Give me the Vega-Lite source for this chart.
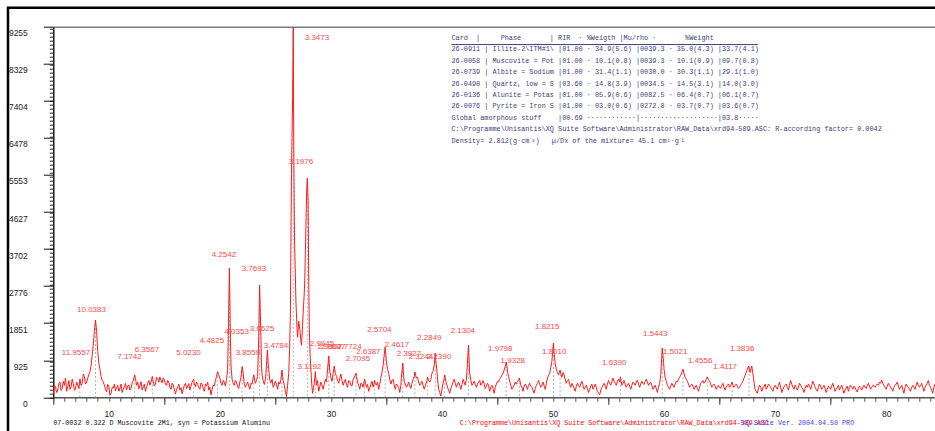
{
  "$schema": "https://vega.github.io/schema/vega-lite/v6.json",
  "width": 881.7,
  "height": 370.6,
  "autosize": {"type": "none"},
  "padding": {"left": 53.3, "top": 26.7, "right": 0, "bottom": 34},
  "background": "white",
  "config": {
    "view": {"stroke": null},
    "axis": {"grid": false, "labelFont": "Liberation Sans", "labelFontSize": 8.5, "labelColor": "#222222"}
  },
  "data": {"values": [{}]},
  "datasets": {
    "scan": [
      {"t":5.0,"c":60},{"t":5.1,"c":310},{"t":5.2,"c":250},{"t":5.3,"c":120},{"t":5.4,"c":180},{"t":5.5,"c":340},{"t":5.6,"c":380},{"t":5.7,"c":170},{"t":5.8,"c":220},{"t":5.9,"c":400},
      {"t":6.0,"c":300},{"t":6.1,"c":480},{"t":6.2,"c":150},{"t":6.3,"c":260},{"t":6.4,"c":420},{"t":6.5,"c":200},{"t":6.6,"c":260},{"t":6.7,"c":450},{"t":6.8,"c":340},{"t":6.9,"c":180},
      {"t":7.0,"c":200},{"t":7.1,"c":380},{"t":7.2,"c":310},{"t":7.3,"c":220},{"t":7.4,"c":460},{"t":7.5,"c":300},{"t":7.6,"c":350},{"t":7.7,"c":580},{"t":7.8,"c":520},{"t":7.9,"c":330},
      {"t":8.0,"c":380},{"t":8.1,"c":480},{"t":8.2,"c":560},{"t":8.3,"c":640},{"t":8.4,"c":780},{"t":8.5,"c":1050},{"t":8.6,"c":1300},{"t":8.7,"c":1650},{"t":8.8,"c":1930},{"t":8.85,"c":1800},
      {"t":8.9,"c":1650},{"t":8.95,"c":1400},{"t":9.0,"c":1150},{"t":9.1,"c":850},{"t":9.2,"c":700},{"t":9.3,"c":520},{"t":9.4,"c":420},{"t":9.5,"c":380},{"t":9.6,"c":300},{"t":9.7,"c":200},
      {"t":9.8,"c":140},{"t":9.9,"c":320},{"t":10.0,"c":280},{"t":10.1,"c":50},{"t":10.2,"c":90},{"t":10.3,"c":250},{"t":10.4,"c":230},{"t":10.5,"c":330},{"t":10.6,"c":160},{"t":10.7,"c":240},
      {"t":10.8,"c":300},{"t":10.9,"c":150},{"t":11.0,"c":220},{"t":11.1,"c":330},{"t":11.2,"c":120},{"t":11.3,"c":200},{"t":11.4,"c":260},{"t":11.5,"c":350},{"t":11.6,"c":190},{"t":11.7,"c":280},
      {"t":11.8,"c":310},{"t":11.9,"c":180},{"t":12.0,"c":230},{"t":12.1,"c":360},{"t":12.2,"c":420},{"t":12.33,"c":560},{"t":12.4,"c":470},{"t":12.5,"c":300},{"t":12.6,"c":380},{"t":12.7,"c":210},
      {"t":12.8,"c":300},{"t":12.9,"c":390},{"t":13.0,"c":180},{"t":13.1,"c":260},{"t":13.2,"c":330},{"t":13.3,"c":150},{"t":13.4,"c":250},{"t":13.5,"c":350},{"t":13.6,"c":420},{"t":13.7,"c":300},
      {"t":13.8,"c":380},{"t":13.92,"c":520},{"t":14.0,"c":400},{"t":14.1,"c":280},{"t":14.2,"c":330},{"t":14.3,"c":500},{"t":14.4,"c":470},{"t":14.5,"c":380},{"t":14.6,"c":510},{"t":14.7,"c":420},
      {"t":14.8,"c":360},{"t":14.9,"c":480},{"t":15.0,"c":430},{"t":15.1,"c":330},{"t":15.2,"c":300},{"t":15.3,"c":420},{"t":15.4,"c":380},{"t":15.5,"c":250},{"t":15.6,"c":200},{"t":15.7,"c":350},
      {"t":15.8,"c":310},{"t":15.9,"c":200},{"t":16.0,"c":80},{"t":16.1,"c":200},{"t":16.2,"c":260},{"t":16.3,"c":330},{"t":16.4,"c":180},{"t":16.5,"c":240},{"t":16.6,"c":90},{"t":16.7,"c":200},
      {"t":16.8,"c":300},{"t":16.9,"c":350},{"t":17.0,"c":220},{"t":17.1,"c":280},{"t":17.2,"c":340},{"t":17.3,"c":180},{"t":17.4,"c":280},{"t":17.5,"c":380},{"t":17.64,"c":450},{"t":17.7,"c":330},
      {"t":17.8,"c":260},{"t":17.9,"c":380},{"t":18.0,"c":320},{"t":18.1,"c":240},{"t":18.2,"c":200},{"t":18.3,"c":360},{"t":18.4,"c":330},{"t":18.5,"c":220},{"t":18.6,"c":150},{"t":18.7,"c":330},
      {"t":18.8,"c":290},{"t":18.9,"c":380},{"t":19.0,"c":180},{"t":19.1,"c":250},{"t":19.2,"c":60},{"t":19.3,"c":200},{"t":19.4,"c":310},{"t":19.5,"c":280},{"t":19.6,"c":420},{"t":19.7,"c":520},
      {"t":19.79,"c":640},{"t":19.9,"c":560},{"t":20.0,"c":480},{"t":20.1,"c":350},{"t":20.2,"c":300},{"t":20.3,"c":420},{"t":20.4,"c":380},{"t":20.5,"c":280},{"t":20.6,"c":450},{"t":20.7,"c":700},
      {"t":20.78,"c":1900},{"t":20.86,"c":3230},{"t":20.95,"c":1500},{"t":21.0,"c":800},{"t":21.1,"c":450},{"t":21.2,"c":350},{"t":21.3,"c":300},{"t":21.4,"c":420},{"t":21.5,"c":380},{"t":21.6,"c":260},
      {"t":21.7,"c":220},{"t":21.8,"c":380},{"t":21.9,"c":500},{"t":22.01,"c":765},{"t":22.1,"c":600},{"t":22.15,"c":450},{"t":22.2,"c":320},{"t":22.3,"c":250},{"t":22.4,"c":330},{"t":22.5,"c":380},
      {"t":22.6,"c":280},{"t":22.7,"c":200},{"t":22.8,"c":350},{"t":22.9,"c":330},{"t":22.97,"c":450},{"t":23.05,"c":560},{"t":23.15,"c":420},{"t":23.2,"c":350},{"t":23.3,"c":420},{"t":23.4,"c":520},
      {"t":23.5,"c":1500},{"t":23.58,"c":2800},{"t":23.68,"c":1700},{"t":23.75,"c":800},{"t":23.8,"c":550},{"t":23.9,"c":420},{"t":24.0,"c":320},{"t":24.1,"c":450},{"t":24.15,"c":600},{"t":24.28,"c":1180},
      {"t":24.35,"c":850},{"t":24.4,"c":700},{"t":24.5,"c":420},{"t":24.6,"c":360},{"t":24.7,"c":450},{"t":24.8,"c":250},{"t":24.9,"c":300},{"t":25.0,"c":400},{"t":25.1,"c":320},{"t":25.2,"c":200},
      {"t":25.3,"c":380},{"t":25.4,"c":330},{"t":25.5,"c":450},{"t":25.59,"c":680},{"t":25.65,"c":520},{"t":25.7,"c":420},{"t":25.8,"c":300},{"t":25.9,"c":150},{"t":26.0,"c":20},{"t":26.1,"c":300},
      {"t":26.2,"c":600},{"t":26.28,"c":1200},{"t":26.35,"c":2100},{"t":26.45,"c":5590},{"t":26.55,"c":7500},{"t":26.61,"c":9255},{"t":26.66,"c":6000},{"t":26.72,"c":4010},{"t":26.85,"c":2400},{"t":26.95,"c":1700},
      {"t":27.0,"c":1500},{"t":27.1,"c":1900},{"t":27.2,"c":1700},{"t":27.3,"c":1400},{"t":27.35,"c":1300},{"t":27.45,"c":1800},{"t":27.5,"c":2100},{"t":27.6,"c":2600},{"t":27.65,"c":2980},{"t":27.75,"c":4300},
      {"t":27.82,"c":5200},{"t":27.88,"c":5470},{"t":27.95,"c":4850},{"t":28.0,"c":3000},{"t":28.05,"c":1800},{"t":28.12,"c":1100},{"t":28.2,"c":680},{"t":28.28,"c":300},{"t":28.35,"c":100},{"t":28.45,"c":280},
      {"t":28.5,"c":350},{"t":28.6,"c":640},{"t":28.7,"c":300},{"t":28.8,"c":420},{"t":28.9,"c":150},{"t":29.0,"c":260},{"t":29.1,"c":380},{"t":29.2,"c":300},{"t":29.3,"c":200},{"t":29.4,"c":330},
      {"t":29.5,"c":450},{"t":29.6,"c":380},{"t":29.7,"c":700},{"t":29.81,"c":1030},{"t":29.9,"c":650},{"t":30.0,"c":500},{"t":30.1,"c":400},{"t":30.2,"c":600},{"t":30.3,"c":780},{"t":30.4,"c":600},
      {"t":30.5,"c":520},{"t":30.6,"c":420},{"t":30.7,"c":350},{"t":30.8,"c":480},{"t":30.9,"c":580},{"t":31.0,"c":420},{"t":31.1,"c":300},{"t":31.2,"c":380},{"t":31.3,"c":450},{"t":31.4,"c":320},
      {"t":31.5,"c":250},{"t":31.6,"c":420},{"t":31.7,"c":400},{"t":31.8,"c":300},{"t":31.9,"c":280},{"t":32.0,"c":450},{"t":32.1,"c":500},{"t":32.26,"c":600},{"t":32.3,"c":520},{"t":32.4,"c":380},
      {"t":32.5,"c":300},{"t":32.6,"c":200},{"t":32.7,"c":350},{"t":32.8,"c":330},{"t":32.9,"c":250},{"t":33.03,"c":450},{"t":33.1,"c":380},{"t":33.2,"c":250},{"t":33.3,"c":320},{"t":33.4,"c":150},
      {"t":33.5,"c":230},{"t":33.6,"c":320},{"t":33.7,"c":400},{"t":33.8,"c":250},{"t":33.94,"c":420},{"t":34.0,"c":350},{"t":34.1,"c":300},{"t":34.2,"c":380},{"t":34.3,"c":200},{"t":34.4,"c":320},
      {"t":34.5,"c":500},{"t":34.6,"c":620},{"t":34.7,"c":800},{"t":34.8,"c":1050},{"t":34.88,"c":1250},{"t":34.95,"c":1050},{"t":35.0,"c":900},{"t":35.1,"c":700},{"t":35.2,"c":600},{"t":35.3,"c":450},
      {"t":35.4,"c":330},{"t":35.5,"c":420},{"t":35.6,"c":450},{"t":35.7,"c":300},{"t":35.8,"c":200},{"t":35.9,"c":330},{"t":36.0,"c":300},{"t":36.1,"c":250},{"t":36.2,"c":120},{"t":36.3,"c":300},
      {"t":36.35,"c":500},{"t":36.47,"c":855},{"t":36.55,"c":550},{"t":36.6,"c":400},{"t":36.7,"c":330},{"t":36.8,"c":250},{"t":36.9,"c":300},{"t":37.0,"c":380},{"t":37.1,"c":280},{"t":37.2,"c":220},
      {"t":37.3,"c":350},{"t":37.4,"c":450},{"t":37.5,"c":520},{"t":37.56,"c":630},{"t":37.7,"c":480},{"t":37.8,"c":500},{"t":37.9,"c":380},{"t":38.0,"c":300},{"t":38.1,"c":350},{"t":38.2,"c":400},
      {"t":38.3,"c":300},{"t":38.4,"c":200},{"t":38.5,"c":280},{"t":38.55,"c":330},{"t":38.65,"c":420},{"t":38.71,"c":500},{"t":38.8,"c":420},{"t":38.9,"c":380},{"t":39.0,"c":450},{"t":39.1,"c":600},
      {"t":39.2,"c":650},{"t":39.3,"c":800},{"t":39.4,"c":1100},{"t":39.47,"c":850},{"t":39.55,"c":650},{"t":39.62,"c":400},{"t":39.7,"c":200},{"t":39.8,"c":120},{"t":39.9,"c":30},{"t":40.0,"c":200},
      {"t":40.1,"c":350},{"t":40.18,"c":450},{"t":40.25,"c":555},{"t":40.35,"c":400},{"t":40.45,"c":300},{"t":40.5,"c":250},{"t":40.6,"c":180},{"t":40.7,"c":100},{"t":40.8,"c":220},{"t":40.9,"c":300},
      {"t":41.0,"c":380},{"t":41.1,"c":450},{"t":41.2,"c":350},{"t":41.3,"c":250},{"t":41.4,"c":330},{"t":41.5,"c":380},{"t":41.6,"c":300},{"t":41.7,"c":200},{"t":41.8,"c":320},{"t":41.9,"c":450},
      {"t":42.0,"c":380},{"t":42.1,"c":300},{"t":42.2,"c":450},{"t":42.25,"c":650},{"t":42.32,"c":1000},{"t":42.39,"c":1305},{"t":42.45,"c":900},{"t":42.5,"c":600},{"t":42.6,"c":420},{"t":42.7,"c":300},
      {"t":42.8,"c":350},{"t":42.9,"c":400},{"t":43.0,"c":320},{"t":43.1,"c":250},{"t":43.2,"c":330},{"t":43.3,"c":380},{"t":43.4,"c":420},{"t":43.5,"c":300},{"t":43.6,"c":350},{"t":43.7,"c":420},
      {"t":43.8,"c":330},{"t":43.9,"c":220},{"t":44.0,"c":280},{"t":44.1,"c":350},{"t":44.2,"c":300},{"t":44.3,"c":150},{"t":44.4,"c":250},{"t":44.5,"c":300},{"t":44.6,"c":220},{"t":44.7,"c":100},
      {"t":44.8,"c":250},{"t":44.9,"c":330},{"t":45.0,"c":400},{"t":45.1,"c":380},{"t":45.2,"c":450},{"t":45.3,"c":500},{"t":45.4,"c":550},{"t":45.5,"c":600},{"t":45.6,"c":680},{"t":45.7,"c":780},
      {"t":45.79,"c":880},{"t":45.85,"c":780},{"t":45.9,"c":650},{"t":46.0,"c":520},{"t":46.1,"c":400},{"t":46.2,"c":300},{"t":46.3,"c":200},{"t":46.4,"c":250},{"t":46.5,"c":300},{"t":46.6,"c":380},
      {"t":46.7,"c":330},{"t":46.8,"c":400},{"t":46.9,"c":420},{"t":46.97,"c":480},{"t":47.05,"c":380},{"t":47.1,"c":300},{"t":47.2,"c":250},{"t":47.3,"c":150},{"t":47.4,"c":280},{"t":47.5,"c":330},
      {"t":47.6,"c":280},{"t":47.7,"c":200},{"t":47.8,"c":300},{"t":47.9,"c":350},{"t":48.0,"c":280},{"t":48.1,"c":250},{"t":48.2,"c":180},{"t":48.3,"c":100},{"t":48.4,"c":220},{"t":48.5,"c":300},
      {"t":48.6,"c":350},{"t":48.7,"c":420},{"t":48.8,"c":330},{"t":48.9,"c":250},{"t":49.0,"c":300},{"t":49.1,"c":380},{"t":49.2,"c":280},{"t":49.3,"c":200},{"t":49.4,"c":350},{"t":49.5,"c":480},
      {"t":49.6,"c":550},{"t":49.7,"c":600},{"t":49.8,"c":750},{"t":49.9,"c":900},{"t":49.97,"c":1150},{"t":50.04,"c":1355},{"t":50.1,"c":1100},{"t":50.2,"c":850},{"t":50.3,"c":700},{"t":50.4,"c":620},
      {"t":50.5,"c":560},{"t":50.57,"c":620},{"t":50.64,"c":680},{"t":50.7,"c":600},{"t":50.8,"c":500},{"t":50.9,"c":620},{"t":51.0,"c":560},{"t":51.1,"c":450},{"t":51.2,"c":350},{"t":51.3,"c":420},
      {"t":51.4,"c":450},{"t":51.5,"c":330},{"t":51.6,"c":250},{"t":51.7,"c":350},{"t":51.8,"c":300},{"t":51.9,"c":220},{"t":52.0,"c":150},{"t":52.1,"c":280},{"t":52.2,"c":350},{"t":52.3,"c":300},
      {"t":52.4,"c":250},{"t":52.5,"c":330},{"t":52.6,"c":400},{"t":52.7,"c":300},{"t":52.8,"c":200},{"t":52.9,"c":250},{"t":53.0,"c":300},{"t":53.1,"c":220},{"t":53.2,"c":120},{"t":53.3,"c":200},
      {"t":53.4,"c":280},{"t":53.5,"c":330},{"t":53.6,"c":200},{"t":53.7,"c":250},{"t":53.8,"c":330},{"t":53.9,"c":250},{"t":54.0,"c":150},{"t":54.1,"c":100},{"t":54.2,"c":60},{"t":54.3,"c":180},
      {"t":54.4,"c":250},{"t":54.5,"c":300},{"t":54.6,"c":350},{"t":54.7,"c":280},{"t":54.8,"c":200},{"t":54.9,"c":330},{"t":55.0,"c":420},{"t":55.1,"c":350},{"t":55.2,"c":300},{"t":55.3,"c":380},
      {"t":55.4,"c":480},{"t":55.5,"c":400},{"t":55.6,"c":350},{"t":55.7,"c":300},{"t":55.8,"c":400},{"t":55.9,"c":450},{"t":56.0,"c":380},{"t":56.07,"c":510},{"t":56.15,"c":400},{"t":56.2,"c":300},
      {"t":56.3,"c":350},{"t":56.4,"c":420},{"t":56.5,"c":330},{"t":56.6,"c":250},{"t":56.7,"c":300},{"t":56.8,"c":350},{"t":56.9,"c":280},{"t":57.0,"c":200},{"t":57.1,"c":300},{"t":57.2,"c":380},
      {"t":57.3,"c":350},{"t":57.4,"c":300},{"t":57.5,"c":380},{"t":57.6,"c":430},{"t":57.7,"c":330},{"t":57.8,"c":250},{"t":57.9,"c":330},{"t":58.0,"c":400},{"t":58.1,"c":350},{"t":58.2,"c":320},
      {"t":58.3,"c":400},{"t":58.4,"c":450},{"t":58.5,"c":380},{"t":58.6,"c":300},{"t":58.7,"c":350},{"t":58.8,"c":380},{"t":58.9,"c":300},{"t":59.0,"c":200},{"t":59.1,"c":250},{"t":59.2,"c":300},
      {"t":59.3,"c":220},{"t":59.4,"c":120},{"t":59.5,"c":250},{"t":59.6,"c":350},{"t":59.7,"c":550},{"t":59.75,"c":800},{"t":59.84,"c":1230},{"t":59.9,"c":1050},{"t":59.95,"c":900},{"t":60.0,"c":700},
      {"t":60.1,"c":500},{"t":60.2,"c":400},{"t":60.3,"c":300},{"t":60.4,"c":250},{"t":60.5,"c":200},{"t":60.6,"c":280},{"t":60.7,"c":350},{"t":60.8,"c":300},{"t":60.9,"c":250},{"t":61.0,"c":330},
      {"t":61.1,"c":400},{"t":61.2,"c":380},{"t":61.3,"c":450},{"t":61.4,"c":500},{"t":61.5,"c":550},{"t":61.6,"c":620},{"t":61.7,"c":705},{"t":61.8,"c":600},{"t":61.9,"c":500},{"t":62.0,"c":450},
      {"t":62.1,"c":400},{"t":62.2,"c":330},{"t":62.3,"c":250},{"t":62.4,"c":300},{"t":62.5,"c":330},{"t":62.6,"c":280},{"t":62.7,"c":200},{"t":62.8,"c":250},{"t":62.9,"c":300},{"t":63.0,"c":220},
      {"t":63.1,"c":150},{"t":63.2,"c":250},{"t":63.3,"c":350},{"t":63.4,"c":380},{"t":63.5,"c":420},{"t":63.6,"c":350},{"t":63.7,"c":380},{"t":63.8,"c":450},{"t":63.9,"c":510},{"t":64.0,"c":450},
      {"t":64.1,"c":400},{"t":64.2,"c":330},{"t":64.3,"c":250},{"t":64.4,"c":300},{"t":64.5,"c":330},{"t":64.6,"c":280},{"t":64.7,"c":200},{"t":64.8,"c":250},{"t":64.9,"c":300},{"t":65.0,"c":250},
      {"t":65.1,"c":220},{"t":65.2,"c":300},{"t":65.3,"c":350},{"t":65.4,"c":250},{"t":65.5,"c":180},{"t":65.6,"c":250},{"t":65.7,"c":300},{"t":65.8,"c":330},{"t":65.9,"c":250},{"t":66.0,"c":300},
      {"t":66.14,"c":380},{"t":66.2,"c":300},{"t":66.3,"c":250},{"t":66.4,"c":300},{"t":66.5,"c":330},{"t":66.6,"c":280},{"t":66.7,"c":220},{"t":66.8,"c":250},{"t":66.9,"c":300},{"t":67.0,"c":350},
      {"t":67.1,"c":400},{"t":67.2,"c":480},{"t":67.3,"c":550},{"t":67.4,"c":620},{"t":67.5,"c":700},{"t":67.62,"c":780},{"t":67.75,"c":620},{"t":67.9,"c":780},{"t":67.97,"c":650},{"t":68.05,"c":500},
      {"t":68.12,"c":350},{"t":68.2,"c":200},{"t":68.3,"c":150},{"t":68.4,"c":100},{"t":68.5,"c":220},{"t":68.6,"c":300},{"t":68.7,"c":250},{"t":68.8,"c":150},{"t":68.9,"c":230},{"t":69.0,"c":280},
      {"t":69.1,"c":330},{"t":69.2,"c":200},{"t":69.3,"c":250},{"t":69.4,"c":330},{"t":69.5,"c":300},{"t":69.6,"c":250},{"t":69.7,"c":200},{"t":69.8,"c":150},{"t":69.9,"c":250},{"t":70.0,"c":300},
      {"t":70.1,"c":250},{"t":70.2,"c":200},{"t":70.3,"c":300},{"t":70.4,"c":380},{"t":70.5,"c":250},{"t":70.6,"c":120},{"t":70.7,"c":200},{"t":70.8,"c":260},{"t":70.9,"c":300},{"t":71.0,"c":330},
      {"t":71.1,"c":250},{"t":71.2,"c":180},{"t":71.3,"c":300},{"t":71.4,"c":420},{"t":71.5,"c":330},{"t":71.6,"c":250},{"t":71.7,"c":200},{"t":71.8,"c":300},{"t":71.9,"c":250},{"t":72.0,"c":180},
      {"t":72.1,"c":250},{"t":72.2,"c":350},{"t":72.3,"c":300},{"t":72.4,"c":250},{"t":72.5,"c":200},{"t":72.6,"c":120},{"t":72.7,"c":220},{"t":72.8,"c":300},{"t":72.9,"c":250},{"t":73.0,"c":330},
      {"t":73.1,"c":280},{"t":73.2,"c":200},{"t":73.3,"c":300},{"t":73.4,"c":400},{"t":73.5,"c":330},{"t":73.6,"c":250},{"t":73.7,"c":200},{"t":73.8,"c":150},{"t":73.9,"c":250},{"t":74.0,"c":330},
      {"t":74.1,"c":280},{"t":74.2,"c":200},{"t":74.3,"c":250},{"t":74.4,"c":300},{"t":74.5,"c":220},{"t":74.6,"c":120},{"t":74.7,"c":200},{"t":74.8,"c":280},{"t":74.9,"c":250},{"t":75.0,"c":200},
      {"t":75.1,"c":280},{"t":75.2,"c":350},{"t":75.3,"c":250},{"t":75.4,"c":150},{"t":75.5,"c":200},{"t":75.6,"c":250},{"t":75.7,"c":300},{"t":75.8,"c":180},{"t":75.9,"c":250},{"t":76.0,"c":300},
      {"t":76.1,"c":200},{"t":76.2,"c":100},{"t":76.3,"c":180},{"t":76.4,"c":230},{"t":76.5,"c":280},{"t":76.6,"c":150},{"t":76.7,"c":250},{"t":76.8,"c":300},{"t":76.9,"c":250},{"t":77.0,"c":200},
      {"t":77.1,"c":280},{"t":77.2,"c":250},{"t":77.3,"c":180},{"t":77.4,"c":130},{"t":77.5,"c":220},{"t":77.6,"c":280},{"t":77.7,"c":250},{"t":77.8,"c":180},{"t":77.9,"c":250},{"t":78.0,"c":300},
      {"t":78.1,"c":250},{"t":78.2,"c":220},{"t":78.3,"c":300},{"t":78.4,"c":350},{"t":78.5,"c":280},{"t":78.6,"c":200},{"t":78.7,"c":250},{"t":78.8,"c":300},{"t":78.9,"c":280},{"t":79.0,"c":250},
      {"t":79.1,"c":300},{"t":79.2,"c":330},{"t":79.3,"c":300},{"t":79.4,"c":380},{"t":79.5,"c":350},{"t":79.6,"c":430},{"t":79.7,"c":350},{"t":79.8,"c":300},{"t":79.9,"c":250},{"t":80.0,"c":200},
      {"t":80.1,"c":280},{"t":80.2,"c":350},{"t":80.3,"c":300},{"t":80.4,"c":250},{"t":80.5,"c":200},{"t":80.6,"c":150},{"t":80.7,"c":250},{"t":80.8,"c":300},{"t":80.9,"c":330},{"t":81.0,"c":380},
      {"t":81.1,"c":280},{"t":81.2,"c":200},{"t":81.3,"c":250},{"t":81.4,"c":300},{"t":81.5,"c":200},{"t":81.6,"c":100},{"t":81.7,"c":250},{"t":81.8,"c":330},{"t":81.9,"c":280},{"t":82.0,"c":250},
      {"t":82.1,"c":200},{"t":82.2,"c":150},{"t":82.3,"c":250},{"t":82.4,"c":300},{"t":82.5,"c":250},{"t":82.6,"c":200},{"t":82.7,"c":300},{"t":82.8,"c":380},{"t":82.9,"c":300},{"t":83.0,"c":250},
      {"t":83.1,"c":300},{"t":83.2,"c":350},{"t":83.3,"c":250},{"t":83.4,"c":150},{"t":83.5,"c":250},{"t":83.6,"c":300},{"t":83.7,"c":350},{"t":83.8,"c":420},{"t":83.9,"c":300},{"t":84.0,"c":250},
      {"t":84.1,"c":180},{"t":84.2,"c":100},{"t":84.3,"c":250},{"t":84.4,"c":330}
    ],
    "sticks": [
      {"t":7.39,"c":450},{"t":8.8,"c":1930},{"t":12.33,"c":560},{"t":13.92,"c":520},{"t":17.64,"c":450},{"t":19.79,"c":640},{"t":20.86,"c":3230},{"t":22.01,"c":765},
      {"t":23.05,"c":560},{"t":23.58,"c":2800},{"t":24.28,"c":1180},{"t":25.59,"c":680},{"t":26.61,"c":9255},{"t":27.88,"c":5470},{"t":28.6,"c":640},{"t":29.81,"c":1030},
      {"t":30.3,"c":780},{"t":32.26,"c":600},{"t":33.03,"c":450},{"t":33.94,"c":420},{"t":34.88,"c":1250},{"t":36.47,"c":855},{"t":37.56,"c":630},{"t":38.71,"c":500},
      {"t":39.4,"c":1100},{"t":40.25,"c":555},{"t":42.39,"c":1305},{"t":45.79,"c":880},{"t":46.97,"c":480},{"t":50.04,"c":1355},{"t":50.64,"c":680},{"t":56.07,"c":510},
      {"t":59.84,"c":1230},{"t":61.7,"c":705},{"t":63.9,"c":510},{"t":66.14,"c":380},{"t":67.66,"c":780}
    ],
    "peaks": [
      {"d":"11.9557","t":7.04,"c":1114},{"d":"10.0383","t":8.44,"c":2180},{"d":"7.1742","t":11.86,"c":1014},{"d":"6.3567","t":13.43,"c":1181},
      {"d":"5.0230","t":17.17,"c":1106},{"d":"4.4825","t":19.28,"c":1406},{"d":"4.2542","t":20.36,"c":3553},{"d":"4.0353","t":21.51,"c":1638},
      {"d":"3.8559","t":22.52,"c":1106},{"d":"3.7693","t":23.06,"c":3204},{"d":"3.6625","t":23.79,"c":1705},{"d":"3.4784","t":25.05,"c":1281},
      {"d":"3.3473","t":28.74,"c":8964},{"d":"3.1976","t":27.3,"c":5875},{"d":"3.1192","t":28.06,"c":757},{"d":"2.9945","t":29.19,"c":1331},
      {"d":"2.9307","t":29.9,"c":1256},{"d":"2.8807","t":30.2,"c":1256},{"d":"2.7724","t":31.66,"c":1257},{"d":"2.7095","t":32.43,"c":956},
      {"d":"2.6387","t":33.37,"c":1139},{"d":"2.5704","t":34.36,"c":1681},{"d":"2.4617","t":35.94,"c":1306},{"d":"2.3927","t":37.02,"c":1081},
      {"d":"2.3244","t":38.1,"c":1006},{"d":"2.2390","t":39.72,"c":1006},{"d":"2.2849","t":38.86,"c":1481},{"d":"2.1304","t":41.88,"c":1656},
      {"d":"1.9798","t":45.25,"c":1206},{"d":"1.9328","t":46.38,"c":906},{"d":"1.8215","t":49.48,"c":1755},{"d":"1.8010","t":50.11,"c":1131},
      {"d":"1.6390","t":55.51,"c":856},{"d":"1.5443","t":59.2,"c":1581},{"d":"1.5021","t":61.0,"c":1131},{"d":"1.4556","t":63.25,"c":906},
      {"d":"1.4117","t":65.5,"c":757},{"d":"1.3836","t":67.03,"c":1206}
    ]
  },
  "resolve": {"axis": {"x": "independent", "y": "independent"}},
  "layer": [
    {
      "data": {"name": "sticks"},
      "mark": {"type": "rule", "color": "#b4b4b4", "strokeWidth": 1, "strokeDash": [2, 2]},
      "encoding": {
        "x": {"field": "t", "type": "quantitative", "scale": {"domain": [5, 84.4], "nice": false},
              "axis": {"orient": "bottom", "title": null, "values": [5, 15, 25, 35, 45, 55, 65, 75, 85], "tickSize": 7, "tickColor": "#333333", "labels": false, "domain": false}},
        "y": {"field": "c", "type": "quantitative", "scale": {"domain": [0, 9255], "nice": false},
              "axis": {"orient": "left", "title": null, "tickCount": 100, "tickSize": 4, "tickColor": "#222222", "labels": false, "domain": false}},
        "y2": {"datum": 0}
      }
    },
    {
      "data": {"name": "scan"},
      "mark": {"type": "line", "color": "#ff1a1a", "strokeWidth": 1, "clip": true},
      "encoding": {
        "x": {"field": "t", "type": "quantitative", "scale": {"domain": [5, 84.4], "nice": false},
              "axis": {"orient": "bottom", "title": null, "tickCount": 80, "tickSize": 4, "tickColor": "#555555", "format": "d",
                       "labelExpr": "datum.value % 10 === 0 ? datum.label : ''", "labelOverlap": false, "labelFlush": false, "labelPadding": 8,
                       "domainColor": "#555555", "domainWidth": 1.6}},
        "y": {"field": "c", "type": "quantitative", "scale": {"domain": [0, 9255], "nice": false},
              "axis": {"orient": "left", "title": null, "values": [0, 925, 1851, 2776, 3702, 4627, 5553, 6478, 7404, 8329, 9255], "format": "d", "tickSize": 10, "tickColor": "#111111",
                       "labelPadding": 16, "labelAlign": "right", "labelBaseline": "top", "labelOffset": 2, "domainColor": "#111111", "domainWidth": 1.4}}
      }
    },
    {
      "data": {"name": "peaks"},
      "mark": {"type": "text", "color": "#ff4a4a", "font": "Liberation Sans", "fontSize": 8, "align": "center", "baseline": "middle"},
      "encoding": {
        "x": {"field": "t", "type": "quantitative", "scale": {"domain": [5, 84.4], "nice": false},
              "axis": {"orient": "top", "title": null, "ticks": false, "labels": false, "domainColor": "#7a7a7a", "domainWidth": 1.6}},
        "y": {"field": "c", "type": "quantitative", "scale": {"domain": [0, 9255], "nice": false}, "axis": null},
        "text": {"field": "d"}
      }
    },
    {
      "mark": {"type": "text", "color": "#3e3e78", "font": "Liberation Mono", "fontSize": 6.85, "align": "left", "baseline": "top", "lineHeight": 11.41},
      "encoding": {
        "x": {"datum": 40.86, "type": "quantitative", "scale": {"domain": [5, 84.4], "nice": false}, "axis": null},
        "y": {"datum": 9047, "type": "quantitative", "scale": {"domain": [0, 9255], "nice": false}, "axis": null},
        "text": {"value": [
          "\u00a0\u00a0Card\u00a0\u00a0|\u00a0\u00a0\u00a0\u00a0\u00a0Phase\u00a0\u00a0\u00a0\u00a0\u00a0\u00a0\u00a0|\u00a0RIR\u00a0\u00a0·\u00a0%Weigth\u00a0|Mu/rho\u00a0·\u00a0\u00a0\u00a0\u00a0\u00a0\u00a0\u00a0%Weight",
          "26-0911 | Illite-2\\ITM#1\\ |01.00 · 34.9(5.6) |0039.3 · 35.0(4.3) |33.7(4.1)",
          "26-0058 | Muscovite = Pot |01.00 · 10.1(0.8) |0039.3 · 10.1(0.9) |09.7(0.8)",
          "26-0739 | Albite = Sodium |01.00 · 31.4(1.1) |0030.0 · 30.3(1.1) |29.1(1.0)",
          "26-0490 | Quartz, low = S |03.60 · 14.8(3.9) |0034.5 · 14.5(3.1) |14.0(3.0)",
          "26-0136 | Alunite = Potas |01.00 · 05.9(0.6) |0082.5 · 06.4(0.7) |06.1(0.7)",
          "26-0076 | Pyrite = Iron S |01.00 · 03.0(0.6) |0272.8 · 03.7(0.7) |03.6(0.7)",
          "Global amorphous stuff\u00a0\u00a0\u00a0\u00a0|00.69 ············|···················|03.8·····",
          "C:\\Programme\\Unisantis\\XQ Suite Software\\Administrator\\RAW_Data\\xrd94-589.ASC: R-according factor= 0.0042",
          "Density= 2.812(g·cm⁻³)\u00a0\u00a0\u00a0µ/Dx of the mixture= 45.1 cm²·g⁻¹"
        ]}
      }
    },
    {
      "mark": {"type": "rule", "color": "#3e3e78", "strokeWidth": 1},
      "encoding": {
        "x": {"datum": 40.86, "type": "quantitative", "scale": {"domain": [5, 84.4], "nice": false}, "axis": null},
        "x2": {"datum": 68.43},
        "y": {"datum": 8809, "type": "quantitative", "scale": {"domain": [0, 9255], "nice": false}, "axis": null}
      }
    },
    {
      "mark": {"type": "rule", "color": "#000000", "strokeWidth": 2.5},
      "encoding": {
        "x": {"datum": 0.92, "type": "quantitative", "scale": {"domain": [5, 84.4], "nice": false}, "axis": null},
        "y": {"datum": 9735, "type": "quantitative", "scale": {"domain": [0, 9255], "nice": false}, "axis": null},
        "y2": {"datum": -1100}
      }
    },
    {
      "mark": {"type": "rule", "color": "#000000", "strokeWidth": 2.5},
      "encoding": {
        "x": {"datum": 0.82, "type": "quantitative", "scale": {"domain": [5, 84.4], "nice": false}, "axis": null},
        "x2": {"datum": 95},
        "y": {"datum": 9728, "type": "quantitative", "scale": {"domain": [0, 9255], "nice": false}, "axis": null}
      }
    },
    {
      "mark": {"type": "text", "color": "#111111", "font": "Liberation Mono", "fontSize": 6.7, "align": "left", "baseline": "middle"},
      "encoding": {
        "x": {"datum": 5.0, "type": "quantitative", "scale": {"domain": [5, 84.4], "nice": false}, "axis": null},
        "y": {"datum": -649, "type": "quantitative", "scale": {"domain": [0, 9255], "nice": false}, "axis": null},
        "text": {"value": "07-0032 0.322 D Muscovite 2M1, syn = Potassium Aluminu"}
      }
    },
    {
      "mark": {"type": "text", "color": "#ff0000", "font": "Liberation Mono", "fontSize": 6.7, "align": "left", "baseline": "middle"},
      "encoding": {
        "x": {"datum": 41.61, "type": "quantitative", "scale": {"domain": [5, 84.4], "nice": false}, "axis": null},
        "y": {"datum": -649, "type": "quantitative", "scale": {"domain": [0, 9255], "nice": false}, "axis": null},
        "text": {"value": "C:\\Programme\\Unisantis\\XQ Suite Software\\Administrator\\RAW_Data\\xrd94-589.ASC"}
      }
    },
    {
      "mark": {"type": "text", "color": "#3a3aff", "font": "Liberation Mono", "fontSize": 6.7, "align": "left", "baseline": "middle"},
      "encoding": {
        "x": {"datum": 67.0, "type": "quantitative", "scale": {"domain": [5, 84.4], "nice": false}, "axis": null},
        "y": {"datum": -649, "type": "quantitative", "scale": {"domain": [0, 9255], "nice": false}, "axis": null},
        "text": {"value": "XQ Suite Ver. 2004.04.50 PRO"}
      }
    }
  ]
}
